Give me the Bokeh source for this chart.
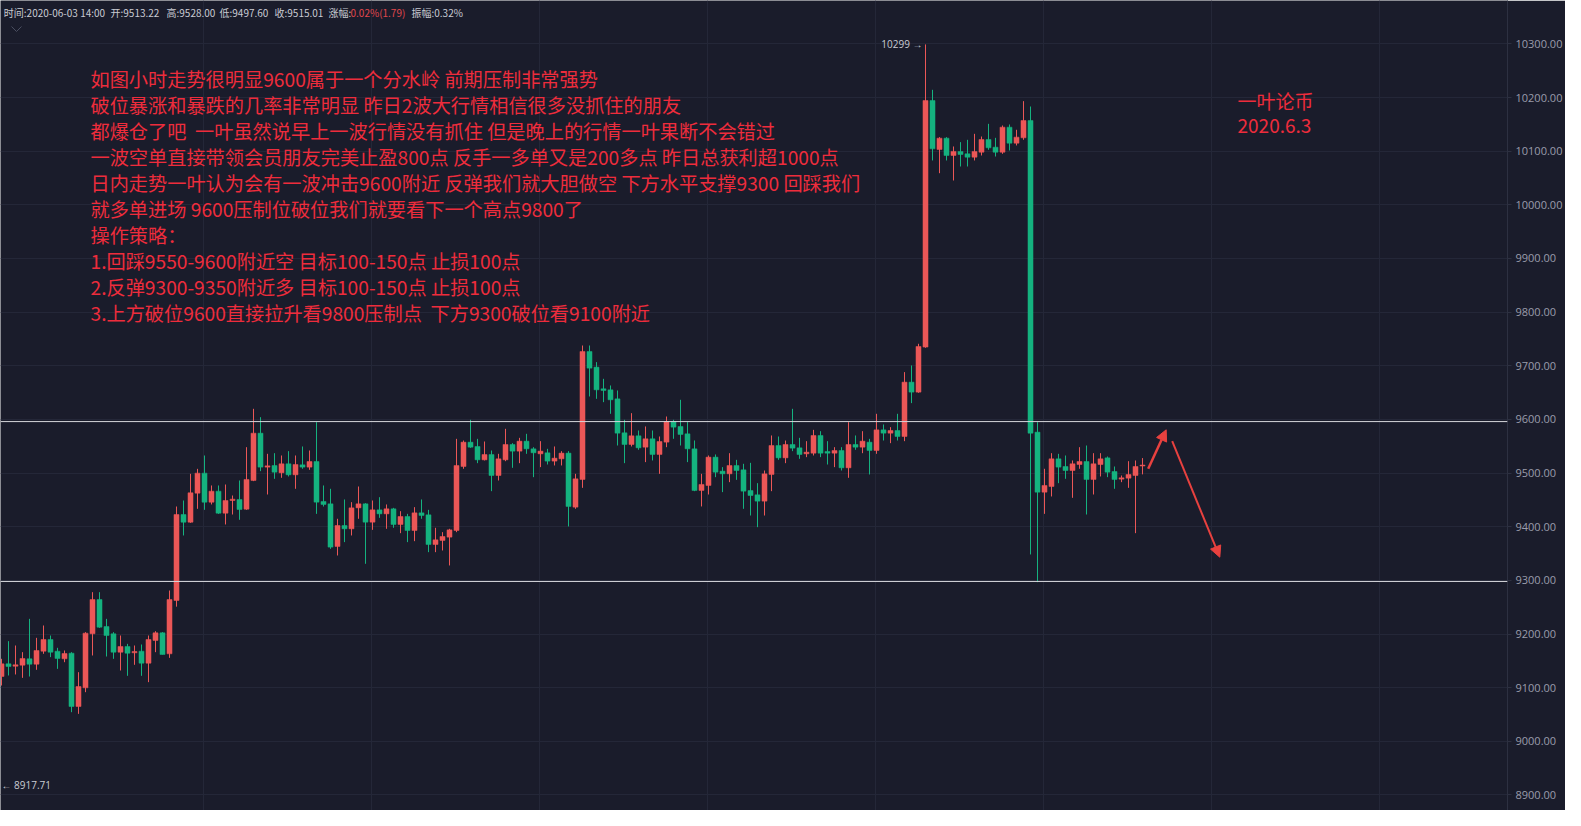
import numpy as np
from bokeh.plotting import figure
from bokeh.models import (Label, Arrow, NormalHead, Span, FixedTicker,
                          PrintfTickFormatter, Range1d, ColumnDataSource)
from bokeh.embed import file_html
from bokeh.resources import INLINE

# ---------------- data (hourly candles, BTC) ----------------
opens = [9120.8, 9144.4, 9140.0, 9142.0, 9153.8, 9143.8, 9168.0, 9189.8, 9168.0, 9153.8,
         9164.3, 9064.9, 9099.7, 9200.4, 9264.3, 9214.0, 9200.4, 9166.2, 9176.8, 9165.0,
         9168.0, 9145.7, 9188.0, 9202.2, 9163.1, 9262.5, 9422.8, 9408.5, 9462.6, 9499.9,
         9445.8, 9466.3, 9425.3, 9448.9, 9450.8, 9432.8, 9486.2, 9574.4, 9511.1, 9514.1,
         9500.5, 9517.3, 9496.8, 9515.4, 9511.1, 9521.6, 9447.1, 9442.7, 9363.2, 9402.3,
         9396.1, 9435.2, 9442.7, 9408.5, 9431.5, 9424.0, 9433.4, 9404.2, 9419.1, 9393.0,
         9425.9, 9422.2, 9366.9, 9374.4, 9380.6, 9393.0, 9512.3, 9557.6, 9549.6, 9524.7,
         9534.6, 9495.5, 9524.7, 9553.3, 9540.9, 9559.5, 9545.2, 9535.9, 9537.8, 9522.3,
         9526.6, 9537.2, 9436.5, 9488.1, 9726.7, 9697.5, 9657.1, 9655.2, 9638.4, 9575.1,
         9553.3, 9569.5, 9548.3, 9563.9, 9534.7, 9557.7, 9596.2, 9586.9, 9573.2, 9545.2,
         9467.6, 9476.9, 9529.7, 9503.6, 9498.6, 9514.1, 9506.1, 9467.5, 9459.5, 9447.7,
         9497.4, 9551.4, 9528.4, 9553.3, 9547.1, 9535.9, 9537.1, 9570.1, 9540.2, 9537.1,
         9542.1, 9509.8, 9553.3, 9548.3, 9557.6, 9542.1, 9580.6, 9574.4, 9579.4, 9568.2,
         9669.5, 9650.9, 9734.8, 10194.5, 10103.2, 10124.3, 10092.0, 10099.5, 10095.1, 10088.9,
         10098.2, 10121.8, 10107.5, 10098.2, 10144.8, 10115.0, 10124.9, 10157.2, 9576.3, 9464.4,
         9475.0, 9526.6, 9512.3, 9504.8, 9516.0, 9521.6, 9488.1, 9516.0, 9528.4, 9503.0,
         9488.7, 9490.5, 9495.5, 9513.22]
highs = [9153.8, 9186.7, 9178.6, 9166.2, 9228.3, 9192.9, 9215.9, 9197.2, 9174.3, 9169.3,
         9166.2, 9128.9, 9203.5, 9278.0, 9278.0, 9228.3, 9203.5, 9197.2, 9181.7, 9178.6,
         9180.5, 9197.2, 9205.3, 9203.5, 9281.1, 9437.7, 9448.9, 9498.6, 9507.9, 9532.8,
         9476.9, 9476.9, 9478.7, 9458.2, 9486.2, 9548.3, 9619.8, 9604.2, 9535.9, 9537.1,
         9532.8, 9540.9, 9532.8, 9549.6, 9542.1, 9594.9, 9476.9, 9470.7, 9414.8, 9450.8,
         9445.8, 9475.0, 9443.9, 9448.9, 9455.1, 9441.5, 9435.2, 9429.0, 9424.0, 9436.5,
         9450.8, 9431.5, 9398.0, 9389.9, 9396.1, 9563.8, 9560.7, 9599.3, 9563.8, 9558.9,
         9542.1, 9535.9, 9582.5, 9555.8, 9565.7, 9573.2, 9548.3, 9559.5, 9545.2, 9549.6,
         9540.9, 9540.9, 9498.6, 9737.8, 9737.8, 9706.8, 9675.7, 9663.3, 9654.0, 9599.3,
         9611.7, 9579.4, 9586.9, 9579.4, 9568.2, 9605.5, 9599.3, 9636.6, 9595.0, 9560.8,
         9498.6, 9532.8, 9534.7, 9511.1, 9537.1, 9524.7, 9517.3, 9519.1, 9481.2, 9504.8,
         9570.1, 9568.2, 9560.7, 9619.8, 9565.7, 9559.5, 9580.6, 9578.1, 9559.5, 9548.3,
         9548.3, 9594.9, 9570.1, 9578.1, 9563.8, 9610.5, 9590.6, 9585.6, 9610.5, 9688.2,
         9700.6, 9741.0, 10299.0, 10214.4, 10126.2, 10126.2, 10108.8, 10116.9, 10121.2, 10132.4,
         10127.4, 10151.0, 10124.9, 10147.9, 10149.8, 10139.9, 10193.3, 10183.3, 9594.9, 9508.0,
         9537.1, 9535.9, 9532.8, 9523.5, 9548.3, 9551.4, 9537.1, 9537.1, 9530.9, 9512.3,
         9495.5, 9522.2, 9523.5, 9528.0]
lows = [9104.0, 9122.7, 9124.6, 9118.3, 9120.8, 9133.3, 9163.1, 9156.9, 9135.1, 9147.5,
        9054.3, 9051.2, 9091.6, 9160.0, 9211.5, 9158.1, 9153.8, 9132.0, 9122.1, 9142.6,
        9122.1, 9110.3, 9166.2, 9161.8, 9155.6, 9251.0, 9383.7, 9407.3, 9433.4, 9431.5,
        9441.5, 9424.0, 9404.2, 9422.8, 9412.9, 9431.5, 9485.0, 9503.6, 9460.1, 9489.3,
        9491.2, 9493.7, 9470.7, 9508.0, 9506.1, 9424.0, 9437.7, 9358.8, 9346.4, 9371.3,
        9383.7, 9414.8, 9330.9, 9394.2, 9416.6, 9396.1, 9398.0, 9388.0, 9371.3, 9373.1,
        9414.8, 9352.6, 9352.6, 9355.7, 9327.8, 9389.9, 9508.0, 9547.1, 9518.5, 9523.5,
        9466.3, 9486.2, 9522.2, 9509.8, 9518.5, 9535.9, 9492.4, 9511.1, 9516.0, 9514.2,
        9514.2, 9400.5, 9433.4, 9472.5, 9642.8, 9638.4, 9632.2, 9610.5, 9551.4, 9518.5,
        9549.6, 9543.4, 9520.4, 9523.5, 9498.6, 9548.3, 9563.9, 9551.4, 9520.4, 9466.3,
        9437.8, 9460.1, 9492.4, 9464.5, 9483.1, 9487.4, 9433.4, 9420.9, 9399.2, 9420.9,
        9466.3, 9524.7, 9518.5, 9540.9, 9526.6, 9529.7, 9532.8, 9529.7, 9516.0, 9511.1,
        9504.8, 9491.2, 9543.4, 9537.1, 9497.4, 9535.9, 9560.7, 9555.8, 9560.7, 9559.5,
        9630.4, 9649.6, 9733.5, 10082.7, 10059.0, 10082.7, 10045.4, 10071.5, 10071.5, 10082.7,
        10092.0, 10102.6, 10090.1, 10095.1, 10101.3, 10110.7, 10121.2, 9348.3, 9296.7, 9424.0,
        9456.4, 9481.2, 9489.3, 9453.9, 9508.0, 9422.8, 9460.1, 9493.7, 9492.4, 9470.7,
        9483.1, 9472.5, 9388.0, 9497.6]
closes = [9144.4, 9139.5, 9142.6, 9154.4, 9143.8, 9169.3, 9189.8, 9166.2, 9154.4, 9163.7,
          9064.9, 9102.2, 9201.6, 9264.3, 9212.8, 9197.2, 9166.2, 9176.8, 9164.3, 9167.4,
          9145.7, 9189.8, 9202.2, 9161.8, 9264.3, 9422.8, 9408.5, 9463.2, 9499.9, 9445.8,
          9466.3, 9425.3, 9448.9, 9451.4, 9432.1, 9488.1, 9574.4, 9511.1, 9513.5, 9501.7,
          9517.3, 9496.8, 9516.0, 9511.1, 9521.6, 9445.8, 9441.5, 9362.0, 9402.3, 9396.1,
          9435.2, 9442.7, 9408.5, 9431.5, 9424.0, 9433.4, 9404.2, 9419.1, 9393.0, 9425.9,
          9421.0, 9366.9, 9375.6, 9381.8, 9394.2, 9514.1, 9557.6, 9548.3, 9524.7, 9534.6,
          9495.5, 9526.6, 9553.3, 9540.9, 9559.5, 9545.2, 9537.8, 9540.9, 9522.3, 9527.8,
          9537.2, 9437.8, 9489.3, 9726.7, 9695.6, 9655.2, 9654.0, 9636.6, 9574.4, 9553.3,
          9569.5, 9547.1, 9563.9, 9534.7, 9558.9, 9596.2, 9585.6, 9572.0, 9545.2, 9467.6,
          9478.8, 9529.7, 9501.7, 9498.6, 9514.1, 9504.8, 9466.3, 9458.2, 9447.7, 9498.6,
          9551.4, 9528.4, 9553.3, 9546.5, 9534.6, 9539.0, 9570.1, 9537.1, 9537.1, 9542.1,
          9509.8, 9553.3, 9548.3, 9559.5, 9542.1, 9580.6, 9574.4, 9579.4, 9568.2, 9669.5,
          9650.9, 9736.0, 10194.5, 10104.4, 10124.3, 10092.0, 10099.5, 10093.9, 10088.9, 10099.5,
          10121.8, 10106.3, 10098.2, 10144.8, 10115.0, 10126.2, 10157.2, 9574.4, 9464.4, 9476.9,
          9526.6, 9511.1, 9504.8, 9517.3, 9521.6, 9488.1, 9517.3, 9526.6, 9501.7, 9488.1,
          9491.2, 9497.4, 9512.3, 9515.01]

price_ticks = [8900, 9000, 9100, 9200, 9300, 9400, 9500, 9600, 9700, 9800, 9900,
               10000, 10100, 10200, 10300]
level_lines = [9596, 9298]          # hand drawn resistance / support lines
visible_high = 10299
visible_low = 8917.71

header_texts = ["时间:2020-06-03 14:00", "开:9513.22", "高:9528.00", "低:9497.60",
                "收:9515.01", "涨幅:", "0.02%(1.79)", "振幅:0.32%"]
header_colors = ["#c9cbd3"] * 6 + ["#e0474c", "#c9cbd3"]

SP2 = "\u00a0\u00a0"
note_lines = [
    "如图小时走势很明显9600属于一个分水岭 前期压制非常强势",
    "破位暴涨和暴跌的几率非常明显 昨日2波大行情相信很多没抓住的朋友",
    "都爆仓了吧" + SP2 + "一叶虽然说早上一波行情没有抓住 但是晚上的行情一叶果断不会错过",
    "一波空单直接带领会员朋友完美止盈800点 反手一多单又是200多点 昨日总获利超1000点",
    "日内走势一叶认为会有一波冲击9600附近 反弹我们就大胆做空 下方水平支撑9300 回踩我们",
    "就多单进场 9600压制位破位我们就要看下一个高点9800了",
    "操作策略：",
    "1.回踩9550-9600附近空 目标100-150点 止损100点",
    "2.反弹9300-9350附近多 目标100-150点 止损100点",
    "3.上方破位9600直接拉升看9800压制点" + SP2 + "下方9300破位看9100附近",
]
brand_lines = ["一叶论币", "2020.6.3"]

# ---------------- layout helpers (reference pixel -> data) ----------------
def xd(px):   # reference x pixel -> candle index units
    return (px - 1.0) / 7.0

def yd(py):   # reference y pixel -> price
    return 10300.0 - (py - 43.4) * 1.864

BG = "#1a1c2b"
UP = "#eb5757"
DOWN = "#15b27f"
NOTE_RED = "#ee2c3c"
CJK = "Noto Sans CJK SC"

n = len(opens)
idx = np.arange(n)
o = np.array(opens); c = np.array(closes); h = np.array(highs); l = np.array(lows)
up = c >= o
src = ColumnDataSource(dict(
    x=idx, o=o, c=c, h=h, l=l,
    top=np.maximum(o, c), bottom=np.minimum(o, c),
    color=np.where(up, UP, DOWN),
))

W, H = 1565, 810
FRAME_W = 1507
p = figure(width=W, height=H, output_backend="svg", toolbar_location=None,
           x_range=Range1d(xd(0), xd(FRAME_W)), y_range=Range1d(yd(H), yd(0)),
           y_axis_location="right",
           min_border_left=0, min_border_right=0, min_border_top=0, min_border_bottom=0,
           background_fill_color=BG, border_fill_color=BG, outline_line_color=None)

p.xaxis.visible = False
ax = p.yaxis[0]
ax.ticker = FixedTicker(ticks=price_ticks)
ax.formatter = PrintfTickFormatter(format="%.2f")
ax.axis_line_color = "#2d3041"
ax.major_tick_line_color = "#2d3041"
ax.major_tick_in = 0
ax.major_tick_out = 4
ax.minor_tick_line_color = None
ax.major_label_text_color = "#9a9dab"
ax.major_label_text_font = "Open Sans"
ax.major_label_text_font_size = "11px"
ax.major_label_standoff = 4

p.ygrid.ticker = FixedTicker(ticks=price_ticks)
p.ygrid.grid_line_color = "#242738"
p.xgrid.ticker = FixedTicker(ticks=[4.9 + 24 * k for k in range(1, 9)])
p.xgrid.grid_line_color = "#242738"

# candles
p.segment(x0="x", y0="l", x1="x", y1="h", color="color", line_width=1, source=src)
p.vbar(x="x", top="top", bottom="bottom", width=0.72, fill_color="color",
       line_color="color", line_width=0.5, source=src)

# level lines
for lv in level_lines:
    p.add_layout(Span(location=lv, dimension="width", line_color="#d6d7dc", line_width=1))

# header
header_x = [3.3, 110, 166, 219, 274, 328, 350, 411]
for t, cx, col in zip(header_texts, header_x, header_colors):
    p.add_layout(Label(x=xd(cx), y=yd(11.5), text=t, text_color=col,
                       text_font=CJK, text_font_size="10px",
                       text_baseline="middle", text_align="left"))
# little chevron
p.line(x=[xd(11), xd(16), xd(21)], y=[yd(26), yd(31), yd(26)], line_color="#4a4e60",
       line_width=1)

# notes
for k, t in enumerate(note_lines):
    p.add_layout(Label(x=xd(90), y=yd(78.5 + 26.0 * k), text=t, text_color=NOTE_RED,
                       text_font=CJK, text_font_size="19.2px",
                       text_baseline="middle", text_align="left"))
for k, t in enumerate(brand_lines):
    p.add_layout(Label(x=xd(1237), y=yd(99.5 + 26 * k), text=t, text_color=NOTE_RED,
                       text_font=CJK, text_font_size="19px",
                       text_baseline="middle", text_align="left"))

# extreme labels
hi_idx = int(np.argmax(h))
p.add_layout(Label(x=hi_idx, y=visible_high, x_offset=-3, text=f"{visible_high} →",
                   text_color="#c9cbd3", text_font="Open Sans", text_font_size="10px",
                   text_baseline="middle", text_align="right"))
p.add_layout(Label(x=xd(1), y=visible_low, text=f"← {visible_low}",
                   text_color="#c9cbd3", text_font="Open Sans", text_font_size="10px",
                   text_baseline="middle", text_align="left"))

# hand-drawn arrows
arrow_px = [((1147.7, 468.3), (1165.7, 429.3), 2.5), ((1171.7, 440.7), (1219.3, 556.7), 2.0)]
for (sx, sy), (ex, ey), lw in arrow_px:
    p.add_layout(Arrow(x_start=xd(sx), y_start=yd(sy), x_end=xd(ex), y_end=yd(ey),
                       line_color="#e8413f", line_width=lw,
                       end=NormalHead(size=11, fill_color="#e8413f", line_color="#e8413f")))

open("out.html", "w").write(file_html(p, INLINE))
